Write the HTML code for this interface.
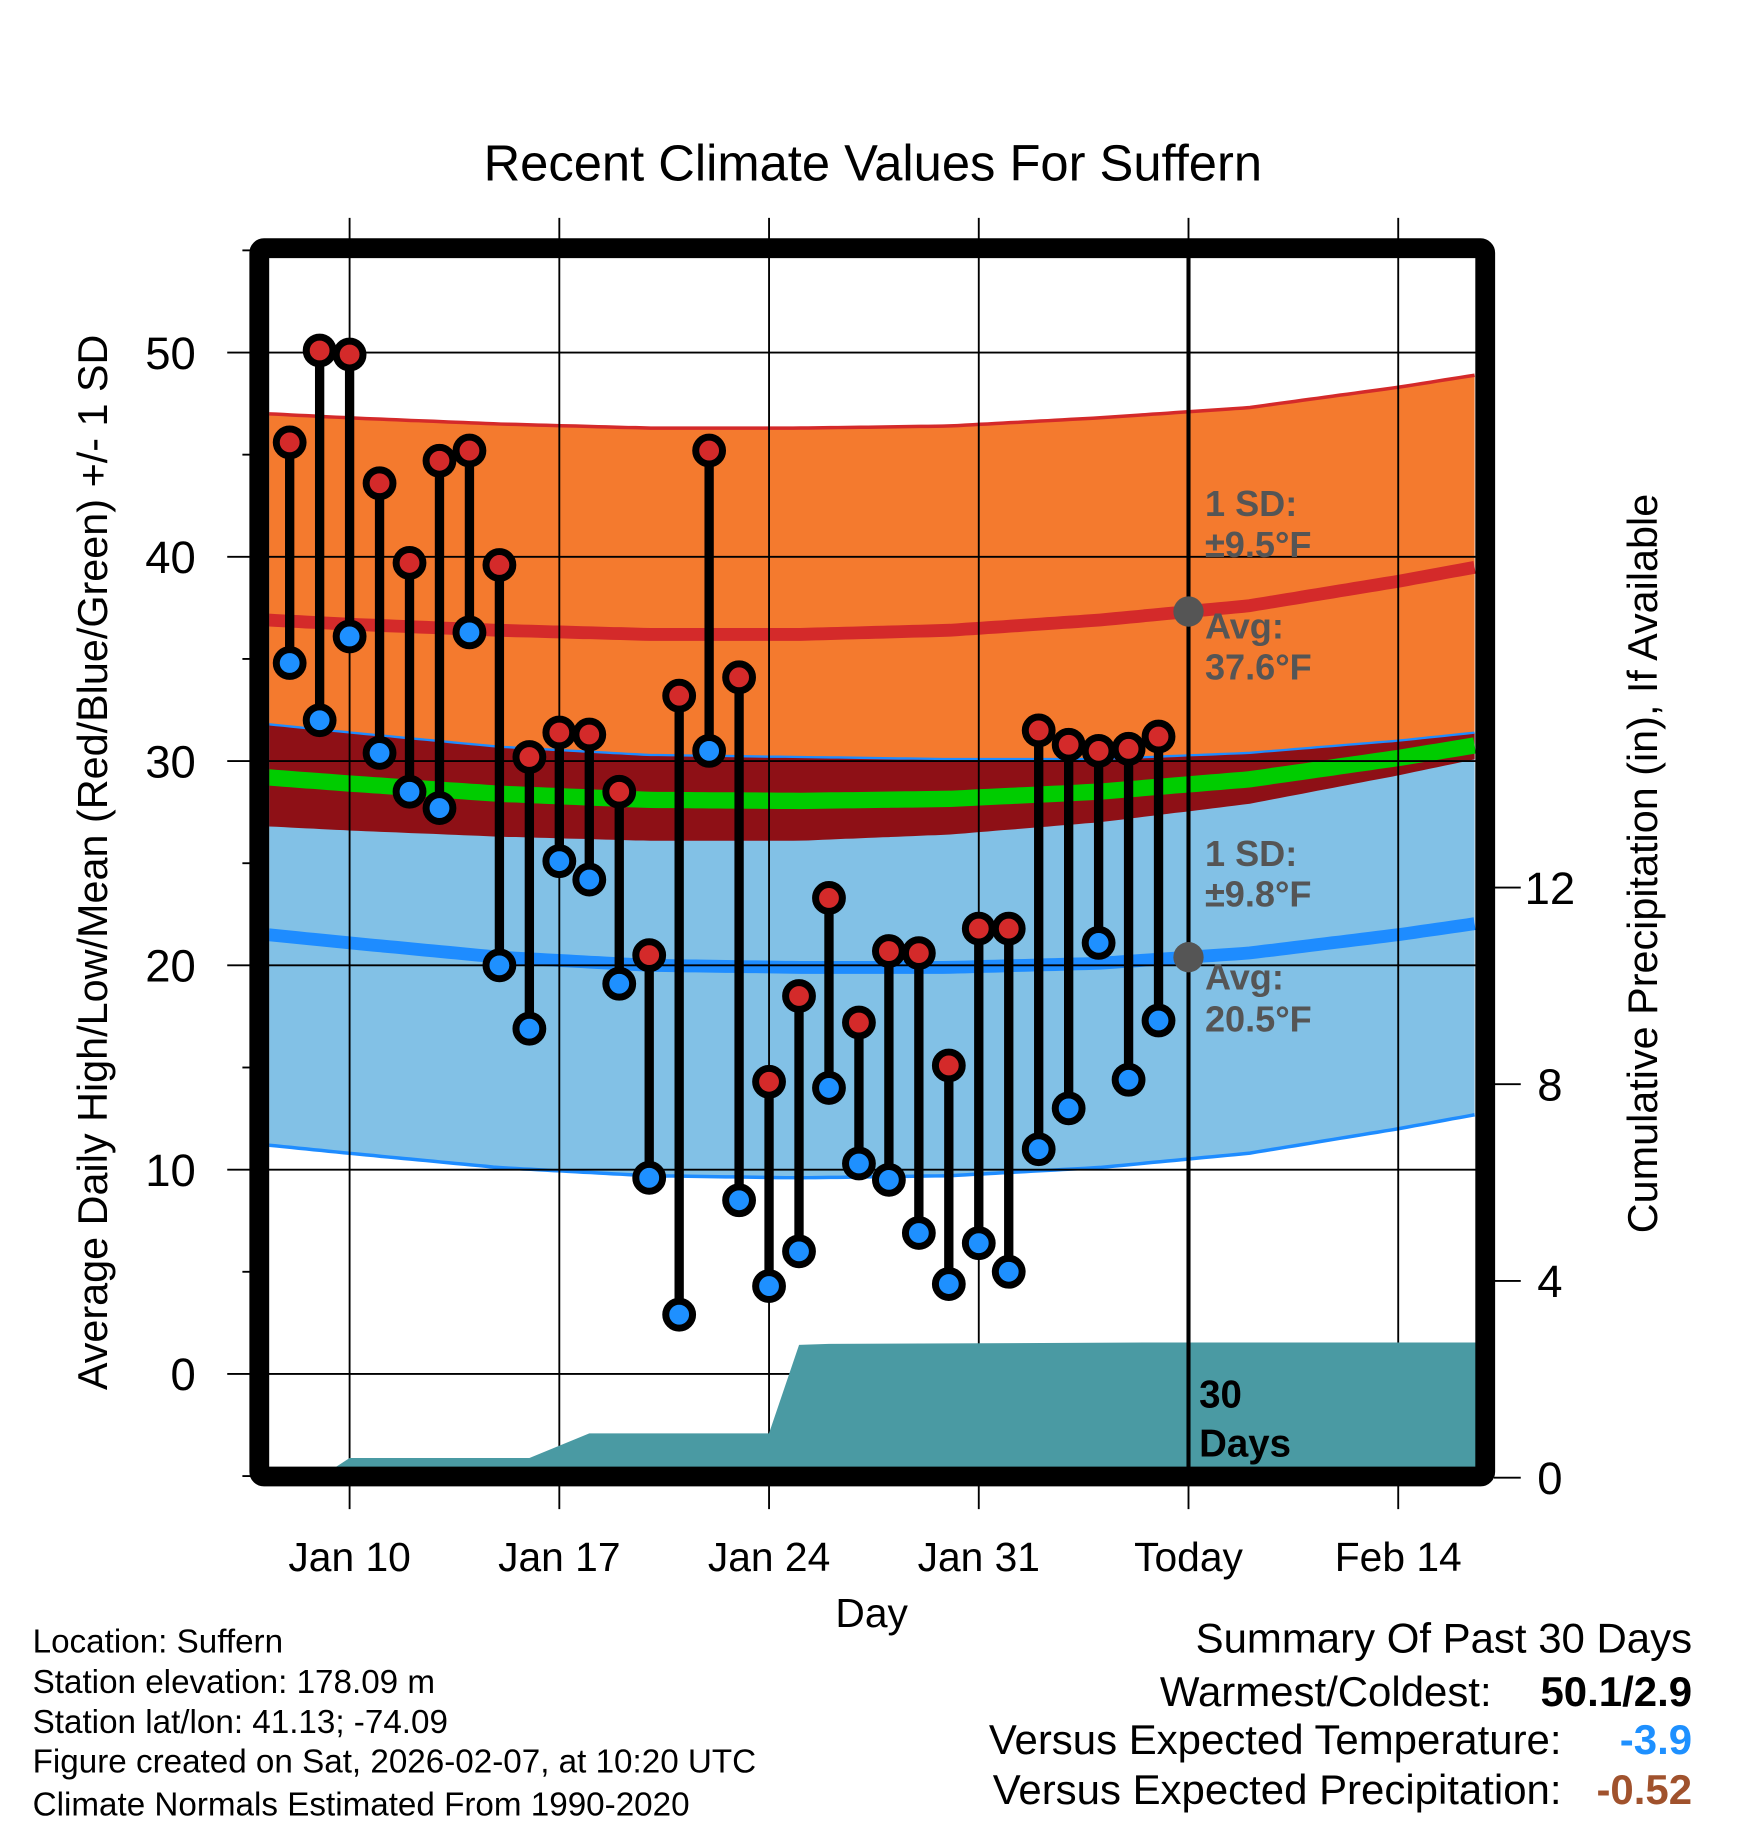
<!DOCTYPE html>
<html><head><meta charset="utf-8">
<style>
html,body{margin:0;padding:0;background:#fff;}
svg{display:block;font-family:"Liberation Sans",Arial,sans-serif;}
</style></head>
<body>
<svg id="chart" width="1748" height="1828" viewBox="0 0 1500 1568.65" xmlns="http://www.w3.org/2000/svg">
<text x="749" y="155" font-size="43.5" text-anchor="middle">Recent Climate Values For Suffern</text>
<defs><clipPath id="plotclip"><rect x="231" y="221" width="1036" height="1038"/></clipPath></defs>
<g id="bands" clip-path="url(#plotclip)"></g>
<g id="grid"></g>
<g id="precip" clip-path="url(#plotclip)"></g>
<g id="marks"></g>
<g id="axes"></g>
<text transform="translate(92,740) rotate(-90)" font-size="35.5" text-anchor="middle">Average Daily High/Low/Mean (Red/Blue/Green) +/- 1 SD</text>
<text transform="translate(1422,741) rotate(-90)" font-size="35.5" text-anchor="middle">Cumulative Precipitation (in), If Available</text>
<text x="748" y="1396" font-size="35" text-anchor="middle">Day</text>
<g font-size="28.5">
<text x="28" y="1418">Location: Suffern</text>
<text x="28" y="1453">Station elevation: 178.09 m</text>
<text x="28" y="1487">Station lat/lon: 41.13; -74.09</text>
<text x="28" y="1521">Figure created on Sat, 2026-02-07, at 10:20 UTC</text>
<text x="28" y="1558">Climate Normals Estimated From 1990-2020</text>
</g>
<g font-size="36">
<text x="1452" y="1418" text-anchor="end">Summary Of Past 30 Days</text>
<text x="1280" y="1464" text-anchor="end">Warmest/Coldest:</text>
<text x="1452" y="1464" text-anchor="end" font-weight="bold">50.1/2.9</text>
<text x="1340" y="1505" text-anchor="end">Versus Expected Temperature:</text>
<text x="1452" y="1505" text-anchor="end" font-weight="bold" fill="#1e90ff">-3.9</text>
<text x="1340" y="1548" text-anchor="end">Versus Expected Precipitation:</text>
<text x="1452" y="1548" text-anchor="end" font-weight="bold" fill="#a0522d">-0.52</text>
</g>
</svg>
<script>
// ---- data ----
const obsDays = [-2,-1,0,1,2,3,4,5,6,7,8,9,10,11,12,13,14,15,16,17,18,19,20,21,22,23,24,25,26,27];
const highs = [45.6,50.1,49.9,43.6,39.7,44.7,45.2,39.6,30.2,31.4,31.3,28.5,20.5,33.2,45.2,34.1,14.3,18.5,23.3,17.2,20.7,20.6,15.1,21.8,21.8,31.5,30.8,30.5,30.6,31.2];
const lows = [34.8,32.0,36.1,30.4,28.5,27.7,36.3,20.0,16.9,25.1,24.2,19.1,9.6,2.9,30.5,8.5,4.3,6.0,14.0,10.3,9.5,6.9,4.4,6.4,5.0,11.0,13.0,21.1,14.4,17.3];
const normDays = [-2.7,0,5,10,15,20,25,30,35,37.6];
const highAvg = [36.9,36.7,36.4,36.2,36.2,36.4,36.9,37.6,38.8,39.5];
const lowAvg = [21.5,21.1,20.4,20.0,19.9,19.9,20.1,20.6,21.5,22.05];
const highSD = [10.1,10.1,10.1,10.1,10.1,10.0,9.9,9.7,9.5,9.4];
const lowSD = [10.3,10.3,10.3,10.3,10.3,10.2,10.0,9.8,9.5,9.35];
const precipDays = [-2,-1,0,6,8,14,15,16,27,37.6];
const precipCum = [0,0,0.4,0.4,0.9,0.9,2.7,2.72,2.75,2.75];
const yTicks = [0,10,20,30,40,50];
const y2Ticks = [0,4,8,12];
const xTickDays = [0,7,14,21,28,35];
const xTickLabels = ["Jan 10","Jan 17","Jan 24","Jan 31","Today","Feb 14"];
const todayDay = 28;

// ---- scales ----
const X = d => 300 + 25.71*d;
const Y = v => 1179 - 17.53*v;
const P = v => 1268 - 42.2*v;
const NS = "http://www.w3.org/2000/svg";
function mk(tag, attrs, parent){const e=document.createElementNS(NS,tag);for(const k in attrs)e.setAttribute(k,attrs[k]);parent.appendChild(e);return e;}
function interp(xs, ys, x){if(x<=xs[0])return ys[0];for(let i=1;i<xs.length;i++){if(x<=xs[i]){const t=(x-xs[i-1])/(xs[i]-xs[i-1]);return ys[i-1]+t*(ys[i]-ys[i-1]);}}return ys[ys.length-1];}
const samp=[];for(let d=-2.7;d<=37.61;d+=0.25)samp.push(d);
const hA=d=>interp(normDays,highAvg,d), lA=d=>interp(normDays,lowAvg,d);
const hS=d=>interp(normDays,highSD,d), lS=d=>interp(normDays,lowSD,d);
function line(f){return samp.map(d=>X(d).toFixed(1)+","+Y(f(d)).toFixed(1)).join(" ");}
function band(fTop,fBot){return samp.map(d=>X(d).toFixed(1)+","+Y(fTop(d)).toFixed(1)).concat(samp.slice().reverse().map(d=>X(d).toFixed(1)+","+Y(fBot(d)).toFixed(1))).join(" ");}

const bands=document.getElementById('bands');
let e;
e=mk('polygon',{points:band(d=>hA(d)+hS(d),d=>hA(d)-hS(d)),fill:'#f47a2e'},bands);


e=mk('polygon',{points:band(d=>lA(d)+lS(d),d=>lA(d)-lS(d)),fill:'#82c1e6'},bands);


e=mk('polygon',{points:band(d=>lA(d)+lS(d),d=>Math.min(hA(d)-hS(d),lA(d)+lS(d))),fill:'#8e1016'},bands);


e=mk('polyline',{points:line(d=>hA(d)+hS(d)),fill:'none',stroke:'#d42a2a','stroke-width':3},bands);


e=mk('polyline',{points:line(d=>lA(d)+lS(d)),fill:'none',stroke:'#1e8cff','stroke-width':2},bands);


e=mk('polyline',{points:line(d=>lA(d)-lS(d)),fill:'none',stroke:'#1e8cff','stroke-width':3},bands);


e=mk('polyline',{points:line(d=>(hA(d)+lA(d))/2),fill:'none',stroke:'#00cc00','stroke-width':14},bands);


e=mk('polyline',{points:line(hA),fill:'none',stroke:'#d42a2a','stroke-width':11},bands);


e=mk('polyline',{points:line(lA),fill:'none',stroke:'#1e8cff','stroke-width':11},bands);



// grid
const grid=document.getElementById('grid');
yTicks.forEach(v=>{
  e=mk('line',{x1:195,x2:1267,y1:Y(v),y2:Y(v),stroke:'#000','stroke-width':1.6},grid);
  
  
});
for(let v=-5;v<=55;v+=10){
  e=mk('line',{x1:208,x2:220,y1:Y(v),y2:Y(v),stroke:'#000','stroke-width':1.6},grid);
  
  
}
xTickDays.forEach(d=>{
  e=mk('line',{x1:X(d),x2:X(d),y1:187,y2:1295,stroke:'#000','stroke-width':1.6},grid);
  
  
});

// precipitation
const pr=document.getElementById('precip');
const pts=[];precipDays.forEach((d,i)=>pts.push(X(d).toFixed(1)+","+P(precipCum[i]).toFixed(1)));
pts.push(X(37.6)+","+1262);pts.push(X(-2)+","+1262);
e=mk('polygon',{points:pts.join(" "),fill:'#4a9aa3'},pr);



// today line and annotations
const marks=document.getElementById('marks');
e=mk('line',{x1:X(todayDay),x2:X(todayDay),y1:221,y2:1260,stroke:'#000','stroke-width':3.5},marks);


e=mk('circle',{cx:X(todayDay),cy:Y(hA(todayDay)),r:13,fill:'#555'},marks);


e=mk('circle',{cx:X(todayDay),cy:Y(lA(todayDay)),r:13,fill:'#555'},marks);


const ann=[["1 SD:",443],["±9.5°F",478],["Avg:",548],["37.6°F",583],["1 SD:",743],["±9.8°F",778],["Avg:",849],["20.5°F",885]];
ann.forEach(a=>{
  e=mk('text',{x:1034,y:a[1],'font-size':31,'font-weight':'bold',fill:'#555'},marks);
  e.textContent=a[0];
  
  
});
[["30",1208],["Days",1250]].forEach(a=>{
  e=mk('text',{x:1029,y:a[1],'font-size':33,'font-weight':'bold',fill:'#000'},marks);
  e.textContent=a[0];
  
  
});

// stems & markers
obsDays.forEach((d,i)=>{
  const x=X(d);
  e=mk('line',{x1:x,x2:x,y1:Y(highs[i]),y2:Y(lows[i]),stroke:'#000','stroke-width':8},marks);
  
  
  e=mk('circle',{cx:x,cy:Y(lows[i]),r:11.5,fill:'#1e90ff',stroke:'#000','stroke-width':6},marks);
  
  
  e=mk('circle',{cx:x,cy:Y(highs[i]),r:11.5,fill:'#d42a2a',stroke:'#000','stroke-width':6},marks);
  
  
});

// frame and axes
const axes=document.getElementById('axes');
e=mk('rect',{x:222.5,y:213,width:1052,height:1054,fill:'none',stroke:'#000','stroke-width':17,rx:4},axes);


yTicks.forEach(v=>{
  e=mk('text',{x:168,y:Y(v)+14,'font-size':39,'text-anchor':'end'},axes);
  e.textContent=String(v);
  
  
});
y2Ticks.forEach(v=>{
  e=mk('line',{x1:1282,x2:1305,y1:P(v),y2:P(v),stroke:'#000','stroke-width':1.6},axes);
  
  
  e=mk('text',{x:1330,y:P(v)+14,'font-size':39,'text-anchor':'middle'},axes);
  e.textContent=String(v);
  
  
});
xTickDays.forEach((d,i)=>{
  e=mk('text',{x:X(d),y:1348,'font-size':35,'text-anchor':'middle'},axes);
  e.textContent=xTickLabels[i];
  
  
});
</script>
</body></html>
